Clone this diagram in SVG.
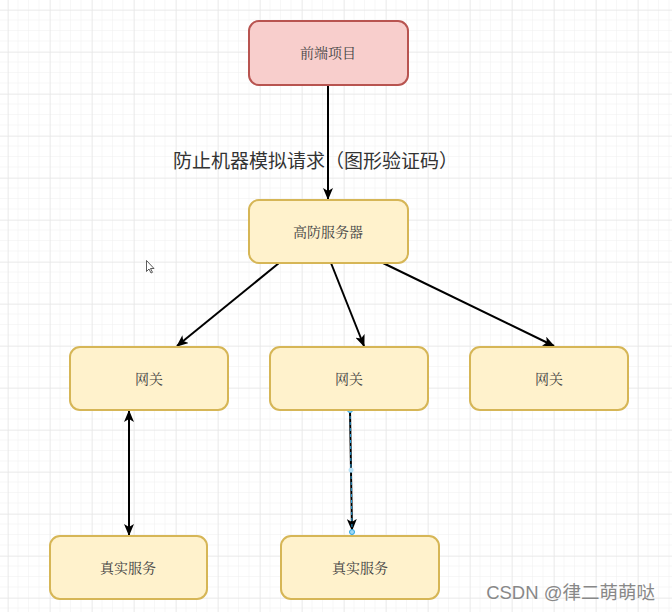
<svg xmlns="http://www.w3.org/2000/svg" width="672" height="612" viewBox="0 0 672 612">
<defs>
<pattern id="minor" x="8" y="10" width="10.5" height="10.5" patternUnits="userSpaceOnUse">
<path d="M10.5 0V10.5M0 10.5H10.5" fill="none" stroke="#f0f0f0" stroke-width="1"/>
</pattern>
<pattern id="major" x="8" y="10" width="42" height="42" patternUnits="userSpaceOnUse">
<path d="M0 0V42M0 0H42" fill="none" stroke="#e3e3e3" stroke-width="1"/>
</pattern>
<marker id="arr" viewBox="0 0 12 10" refX="11" refY="5" markerWidth="12" markerHeight="10" markerUnits="userSpaceOnUse" orient="auto-start-reverse">
<path d="M0 0L12 5L0 10L3 5Z" fill="#000"/>
</marker>
<style>
.red{fill:#f8cecc;stroke:#b85450;stroke-width:2}
.yel{fill:#fff2cc;stroke:#d6b656;stroke-width:2}
.t{font-family:"Noto Serif CJK SC","Noto Sans CJK SC",serif;font-size:14px;fill:#444;text-anchor:middle}
.e{fill:none;stroke:#000;stroke-width:2}
.h{fill:#9fd8f5;stroke:#29a3e0;stroke-width:1}
</style>
</defs>
<rect width="672" height="612" fill="#fff"/>
<rect width="672" height="612" fill="url(#minor)"/>
<rect width="672" height="612" fill="url(#major)"/>
<g id="edges">
<path class="e" d="M328 85V199" marker-end="url(#arr)"/>
<path class="e" d="M279 263L177 346" marker-end="url(#arr)"/>
<path class="e" d="M331 263L364 346" marker-end="url(#arr)"/>
<path class="e" d="M383 263L554 346" marker-end="url(#arr)"/>
<path class="e" d="M129 411V535" marker-start="url(#arr)" marker-end="url(#arr)"/>
<path class="e" d="M350 410L352 530" marker-end="url(#arr)"/>
<path d="M350 410L352 530" fill="none" stroke="#29a3e0" stroke-width="1" stroke-dasharray="3 3"/>
<circle class="h" cx="350" cy="410" r="2.5"/>
<circle cx="351" cy="470" r="2.5" fill="#b5e0f5" stroke="none"/>
<circle class="h" cx="352" cy="532" r="2.5"/>
<text x="315.5" y="168" font-family="'Noto Sans CJK SC',sans-serif" font-size="19" fill="#333" text-anchor="middle">防止机器模拟请求（图形验证码）</text>
</g>
<g id="n1"><rect class="red" x="249" y="21" width="159" height="64" rx="10"/><text class="t" x="328" y="58">前端项目</text></g>
<g id="n2"><rect class="yel" x="249" y="200" width="159" height="63" rx="10"/><text class="t" x="328" y="237">高防服务器</text></g>
<g id="n3"><rect class="yel" x="70" y="347" width="158" height="63" rx="10"/><text class="t" x="149" y="384">网关</text></g>
<g id="n4"><rect class="yel" x="270" y="347" width="158" height="63" rx="10"/><text class="t" x="349" y="384">网关</text></g>
<g id="n5"><rect class="yel" x="470" y="347" width="158" height="63" rx="10"/><text class="t" x="549" y="384">网关</text></g>
<g id="n6"><rect class="yel" x="50" y="536" width="157" height="63" rx="10"/><text class="t" x="128" y="573">真实服务</text></g>
<g id="n7"><rect class="yel" x="281" y="536" width="158" height="63" rx="10"/><text class="t" x="360" y="573">真实服务</text></g>
<path d="M146.5 260.5V271.5L149 269L151 273L152.5 272.3L150.5 268.5H154Z" fill="#fff" stroke="#333" stroke-width="0.8"/>
<text x="655" y="599" font-family="'Liberation Sans','Noto Sans CJK SC',sans-serif" font-size="18.5" fill="#888" text-anchor="end">CSDN @律二萌萌哒</text>
</svg>
